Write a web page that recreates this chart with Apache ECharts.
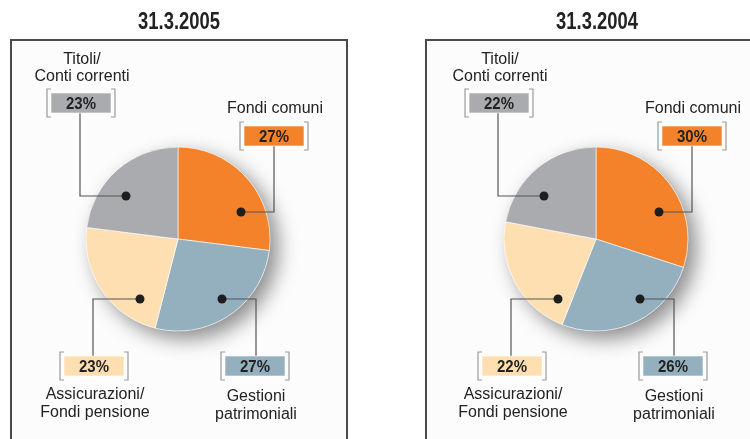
<!DOCTYPE html>
<html>
<head>
<meta charset="utf-8">
<script src="https://cdn.jsdelivr.net/npm/echarts@6/dist/echarts.min.js"></script>
<style>html,body{margin:0;padding:0;background:#fff;}#c{width:750px;height:439px;}</style>
</head>
<body>
<div id="c"></div>
<script>
// ---- data ----
const titles = ['31.3.2005', '31.3.2004'];
const categories = ['Fondi comuni', 'Gestioni patrimoniali', 'Assicurazioni/ Fondi pensione', 'Titoli/ Conti correnti'];
const categoryLines = [['Fondi comuni'], ['Gestioni', 'patrimoniali'], ['Assicurazioni/', 'Fondi pensione'], ['Titoli/', 'Conti correnti']];
const values2005 = [27, 27, 23, 23];
const values2004 = [30, 26, 22, 22];
const panelValues = [values2005, values2004];

// ---- styling / layout ----
const colors = ['#F3822A', '#94AFBE', '#FDDFB1', '#AAABAE'];
const panels = [{cx: 178, cy: 239, boxX: 11}, {cx: 596, cy: 239, boxX: 426}];
const R = 92;
// callout layout offsets relative to pie centre
const callouts = [
  {dot: [63, -27], elbowX: 96, box: [96, -103], textY: [-130]},
  {dot: [44, 60], elbowX: 78, box: [77, 127], textY: [158, 176]},
  {dot: [-38, 60], elbowX: -85, box: [-84, 127], textY: [156, 174]},
  {dot: [-52, -43], elbowX: -98, box: [-97, -136], textY: [-179, -162]}
];
const BW = 60, BH = 20, GAP = 4, TICK = 4;
const sansBold = "'Liberation Sans',Arial,Helvetica,sans-serif";
const regular = "'Liberation Sans',Arial,Helvetica,sans-serif";

const chart = echarts.init(document.getElementById('c'), null, {renderer: 'canvas'});
const series = [];
const graphic = [];

panels.forEach((p, pi) => {
  const vals = panelValues[pi];
  const total = vals.reduce((a, b) => a + b, 0);
  // panel frame
  graphic.push({type: 'rect', z: -10, shape: {x: p.boxX, y: 40, width: 336, height: 430},
    style: {fill: '#fcfcfc', stroke: '#4a4a4a', lineWidth: 2}});
  graphic.push({type: 'text', z: 100, x: p.cx + 1, y: 23, scaleX: 0.8,
    style: {text: titles[pi], font: 'bold 23px ' + sansBold, fill: '#222', textAlign: 'center', textVerticalAlign: 'middle'}});
  // shadow disk
  series.push({type: 'pie', center: [p.cx, p.cy], radius: R, silent: true, animation: false, z: 1,
    label: {show: false}, labelLine: {show: false},
    data: [{value: total, itemStyle: {color: '#fff', shadowBlur: 20, shadowColor: 'rgba(0,0,0,0.45)', shadowOffsetX: 8, shadowOffsetY: 8}}]});
  // pie
  series.push({type: 'pie', center: [p.cx, p.cy], radius: R, startAngle: 90, clockwise: true,
    silent: true, animation: false, z: 2,
    label: {show: false}, labelLine: {show: false},
    itemStyle: {borderColor: '#ffffff', borderWidth: 0.6},
    data: categories.map((c, i) => ({name: c, value: vals[i], itemStyle: {color: colors[i]}}))});
  // callouts
  callouts.forEach((co, i) => {
    const dx = p.cx + co.dot[0], dy = p.cy + co.dot[1];
    const ex = p.cx + co.elbowX;
    const bx = p.cx + co.box[0] - BW / 2, by = p.cy + co.box[1] - BH / 2;
    const above = co.box[1] < co.dot[1];
    const endY = above ? by + BH : by;
    graphic.push({type: 'polyline', z: 100, shape: {points: [[dx, dy], [ex, dy], [ex, endY]]},
      style: {stroke: '#555', lineWidth: 1.2, fill: null}});
    graphic.push({type: 'circle', z: 101, shape: {cx: dx, cy: dy, r: 4.5}, style: {fill: '#1e1e1e'}});
    graphic.push({type: 'rect', z: 100, shape: {x: bx, y: by, width: BW, height: BH},
      style: {fill: colors[i], stroke: 'rgba(255,255,255,0.6)', lineWidth: 1}});
    const L = bx - GAP, Rr = bx + BW + GAP, T = by - GAP, B = by + BH + GAP;
    graphic.push({type: 'polyline', z: 100, shape: {points: [[L + TICK, T], [L, T], [L, B], [L + TICK, B]]},
      style: {stroke: '#9a9a9a', lineWidth: 1.2, fill: null}});
    graphic.push({type: 'polyline', z: 100, shape: {points: [[Rr - TICK, T], [Rr, T], [Rr, B], [Rr - TICK, B]]},
      style: {stroke: '#9a9a9a', lineWidth: 1.2, fill: null}});
    graphic.push({type: 'text', z: 102, x: bx + BW / 2, y: by + BH / 2 + 1, scaleX: 0.88,
      style: {text: vals[i] + '%', font: 'bold 17px ' + sansBold, fill: '#222', textAlign: 'center', textVerticalAlign: 'middle'}});
    categoryLines[i].forEach((ln, k) => {
      graphic.push({type: 'text', z: 102, x: p.cx + co.box[0] + 1, y: p.cy + co.textY[k],
        style: {text: ln, font: '16px ' + regular, fill: '#222', textAlign: 'center', textVerticalAlign: 'middle'}});
    });
  });
});

chart.setOption({backgroundColor: '#ffffff', animation: false, series: series, graphic: graphic});
</script>
</body>
</html>
